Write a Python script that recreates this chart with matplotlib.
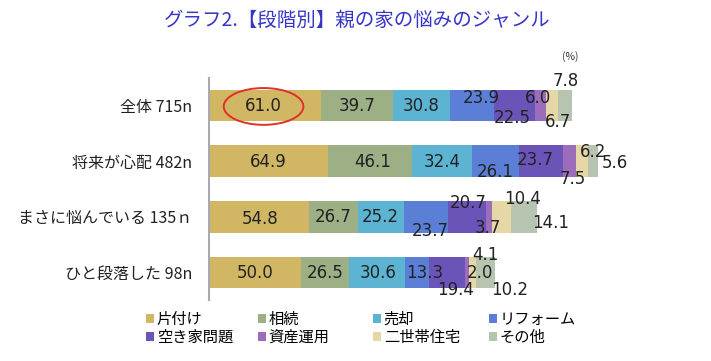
import matplotlib.pyplot as plt
from matplotlib.patches import Ellipse, Patch

plt.rcParams['font.family'] = ['Noto Sans CJK JP', 'DejaVu Sans']

rows = ['全体 715n', '将来が心配 482n', 'まさに悩んでいる 135ｎ', 'ひと段落した 98n']
genres = ['片付け', '相続', '売却', 'リフォーム', '空き家問題', '資産運用', '二世帯住宅', 'その他']
colors = ['#D1B764', '#9CAF85', '#5DB4D2', '#5B7ED6', '#6A54B8', '#9B6DBA', '#E5D7A6', '#B7C4B0']

# values per genre, one entry per row (top to bottom)
katazuke = [61.0, 64.9, 54.8, 50.0]
souzoku = [39.7, 46.1, 26.7, 26.5]
baikyaku = [30.8, 32.4, 25.2, 30.6]
reform = [23.9, 26.1, 23.7, 13.3]
akiya = [22.5, 23.7, 20.7, 19.4]
shisan = [6.0, 7.5, 3.7, 2.0]
nisetai = [6.7, 6.2, 10.4, 4.1]
sonota = [7.8, 5.6, 14.1, 10.2]
series = [katazuke, souzoku, baikyaku, reform, akiya, shisan, nisetai, sonota]

# label nudges in pixels (dx right, dy down), per row, per segment
nudges = [
    [(-2, 1), (0, 1), (0, 1), (10, -7), (-2, 13), (-2, -7), (6, 17), (1, -24)],
    [(0, 1), (3, 1), (0, 1), (0, 11), (-6, -1), (3, 18), (11, -9), (22, 2)],
    [(1, 2), (-1, 0), (-1, 0), (4, 14), (1, -14), (-1, 11), (21, -18), (26, 6)],
    [(0, 0), (0, 0), (1, 0), (7, 0), (8, 17), (13, 0), (13, -18), (24, 17)],
]

W, H = 711, 361
fig = plt.figure(figsize=(W / 100, H / 100), dpi=100)
ax = fig.add_axes([209 / W, (H - 300) / H, (650 - 209) / W, 222 / H])

ypos = list(range(len(rows)))
left = [0.0] * len(rows)
for g, vals in enumerate(series):
    ax.barh(ypos, vals, left=left, height=0.56, color=colors[g], edgecolor='none')
    for r, v in enumerate(vals):
        dx, dy = nudges[r][g]
        ax.annotate('%.1f' % v, (left[r] + v / 2, r), xytext=(dx * 0.72, -dy * 0.72),
                    textcoords='offset points', ha='center', va='center',
                    fontsize=12, color='#222222', family='DejaVu Sans')
    left = [a + b for a, b in zip(left, vals)]

ax.set_xlim(0, (650 - 209) / 1.831)
ax.set_ylim(3.49, -0.49)
ax.set_yticks(ypos)
ax.set_yticklabels(rows, fontsize=11.5, color='#222222')
ax.tick_params(axis='y', length=0, pad=12)
ax.set_xticks([])
for s in ['top', 'right', 'bottom']:
    ax.spines[s].set_visible(False)
ax.spines['left'].set_color('#A8A8B0')
ax.spines['left'].set_linewidth(1.5)

ax.add_patch(Ellipse((29.8, 0.02), 43.5, 0.66, fill=False, edgecolor='#E0302A', linewidth=1.4))

fig.text(357 / W, 1 - 20 / H, 'グラフ2.【段階別】親の家の悩みのジャンル', ha='center', va='center',
         fontsize=14, color='#3535C8')
fig.text(570 / W, 1 - 57 / H, '(%)', ha='center', va='center', fontsize=7.5, color='#333333')

col_x = [146, 258, 373, 489]
for c in range(4):
    idx = [c, c + 4]
    handles = [Patch(facecolor=colors[i], edgecolor='none') for i in idx]
    fig.legend(handles, [genres[i] for i in idx], loc='upper left',
               bbox_to_anchor=(col_x[c] / W, 1 - 311 / H), frameon=False,
               fontsize=11, handlelength=0.55, handleheight=0.55, handletextpad=0.15,
               labelspacing=0.05, borderpad=0, borderaxespad=0)

fig.savefig('out.png', dpi=100, facecolor='white')
